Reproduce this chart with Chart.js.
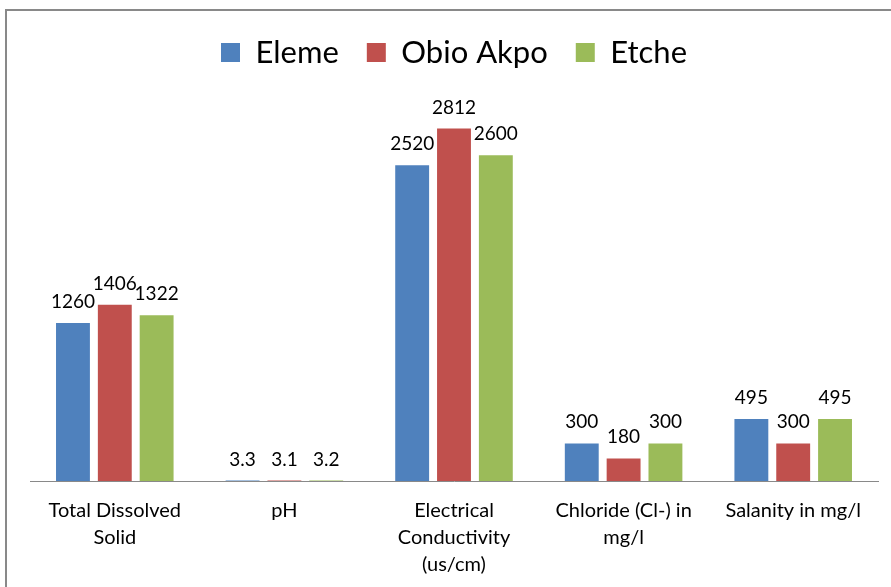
<!DOCTYPE html>
<html>
<head>
<meta charset="utf-8">
<script src="https://cdn.jsdelivr.net/npm/chart.js@4.4.1/dist/chart.umd.min.js"></script>
<style>
  html, body { margin: 0; padding: 0; background: #fff; }
  #wrap { position: relative; width: 891px; height: 587px; overflow: hidden; }
  #frame { position: absolute; left: 5px; top: 9px; width: 920px; height: 620px; border: 2px solid #898989; box-sizing: border-box; }
  canvas { position: absolute; left: 0; top: 0; }
</style>
</head>
<body>
<div id="wrap">
  <div id="frame"></div>
  <canvas id="chart" width="891" height="587"></canvas>
</div>
<script>
const categories = [
  ["Total Dissolved", "Solid"],
  "pH",
  ["Electrical", "Conductivity", "(us/cm)"],
  ["Chloride (Cl-) in", "mg/l"],
  "Salanity in mg/l"
]
const eleme = [1260, 3.3, 2520, 300, 495]
const obioAkpo = [1406, 3.1, 2812, 180, 300]
const etche = [1322, 3.2, 2600, 300, 495]

const FONT = "Lato, 'Open Sans', sans-serif"

const valueLabels = {
  id: "valueLabels",
  afterDatasetsDraw(chart) {
    const ctx = chart.ctx
    ctx.save()
    ctx.font = "19px " + FONT
    ctx.fillStyle = "#000"
    ctx.textAlign = "center"
    ctx.textBaseline = "alphabetic"
    chart.data.datasets.forEach((ds, i) => {
      chart.getDatasetMeta(i).data.forEach((bar, j) => {
        ctx.fillText(String(ds.data[j]), bar.x, bar.y - 15)
      })
    })
    ctx.restore()
  }
}

// leave some room between the legend and the plot
const legendGap = {
  id: "legendGap",
  beforeInit(chart) {
    const fit = chart.legend.fit
    chart.legend.fit = function () {
      fit.call(this)
      this.height += 27
    }
  }
}

new Chart(document.getElementById("chart"), {
  type: "bar",
  data: {
    labels: categories,
    datasets: [
      { label: "Eleme", data: eleme, backgroundColor: "#4F81BD" },
      { label: "Obio Akpo", data: obioAkpo, backgroundColor: "#C0504D" },
      { label: "Etche", data: etche, backgroundColor: "#9BBB59" }
    ]
  },
  options: {
    responsive: false,
    animation: false,
    categoryPercentage: 0.74,
    barPercentage: 0.81,
    layout: {
      padding: { top: 9, left: 30, right: 13, bottom: -7 }
    },
    plugins: {
      legend: {
        position: "top",
        labels: {
          boxWidth: 19,
          boxHeight: 19,
          padding: 28,
          color: "#000",
          font: { family: FONT, size: 31 }
        }
      },
      tooltip: { enabled: false }
    },
    scales: {
      x: {
        grid: { display: false, drawTicks: false },
        border: { display: true, color: "#898989", width: 1 },
        ticks: {
          color: "#000",
          padding: 16,
          maxRotation: 0,
          autoSkip: false,
          font: { family: FONT, size: 20, lineHeight: 1.35 }
        }
      },
      y: {
        display: false,
        min: 0,
        max: 3000
      }
    }
  },
  plugins: [valueLabels, legendGap]
})
</script>
</body>
</html>
